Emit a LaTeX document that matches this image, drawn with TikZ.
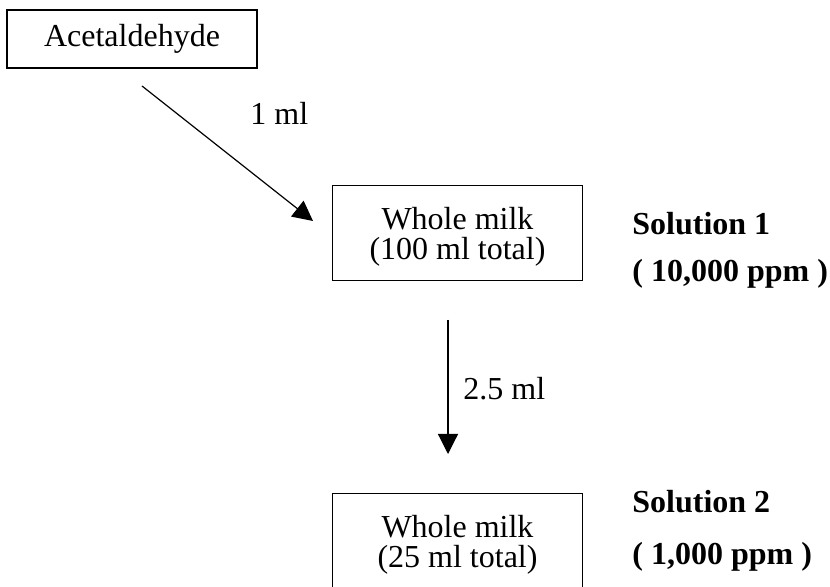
\documentclass[tikz,border=0pt]{standalone}
\usepackage{fontspec}
\setmainfont{Liberation Serif}
\usetikzlibrary{arrows.meta}
\begin{document}
\begin{tikzpicture}[x=0.5pt,y=-0.5pt]
\tikzstyle{chemical} = [rectangle, draw=black, line width=0.6pt, minimum width=125pt, minimum height=29pt, font=\fontsize{16}{14.5}\selectfont]
\tikzstyle{milk} = [rectangle, draw=black, line width=0.6pt, minimum width=125pt, minimum height=47.5pt, align=center, font=\fontsize{16}{15}\selectfont]
\tikzstyle{solution} = [anchor=base west, inner sep=0pt, font=\fontsize{16}{18}\selectfont\bfseries]
\tikzstyle{volume} = [anchor=base west, inner sep=0pt, font=\fontsize{16}{18}\selectfont]
\tikzstyle{transfer} = [-{Triangle[length=10pt,width=10pt]}, line width=0.6pt]

\useasboundingbox (0,0) rectangle (830,587);
\node(acetaldehyde) [chemical] at (132,39) {Acetaldehyde};
\node(wholeMilk1) [milk] at (457.5,233) {\rule{0pt}{15pt}Whole milk\\(100 ml total)};
\node(wholeMilk2) [milk] at (457.5,541) {\rule{0pt}{15pt}Whole milk\\(25 ml total)};
\node(solution1) [solution] at (632,235) {Solution 1};
\node(ppm1) [solution] at (632,282) {( 10,000 ppm )};
\node(solution2) [solution] at (632,512) {Solution 2};
\node(ppm2) [solution] at (632,564) {( 1,000 ppm )};
\coordinate(drop1start) at (142,86);
\coordinate(drop1end) at (313,221);
\coordinate(drop2start) at (448,320);
\coordinate(drop2end) at (448,454);
\draw[transfer] (drop1start) -- (drop1end);
\draw[transfer] (drop2start) -- (drop2end);
\node(volume1) [volume] at (250,125) {1 ml};
\node(volume2) [volume] at (463,400) {2.5 ml};
\end{tikzpicture}
\end{document}
